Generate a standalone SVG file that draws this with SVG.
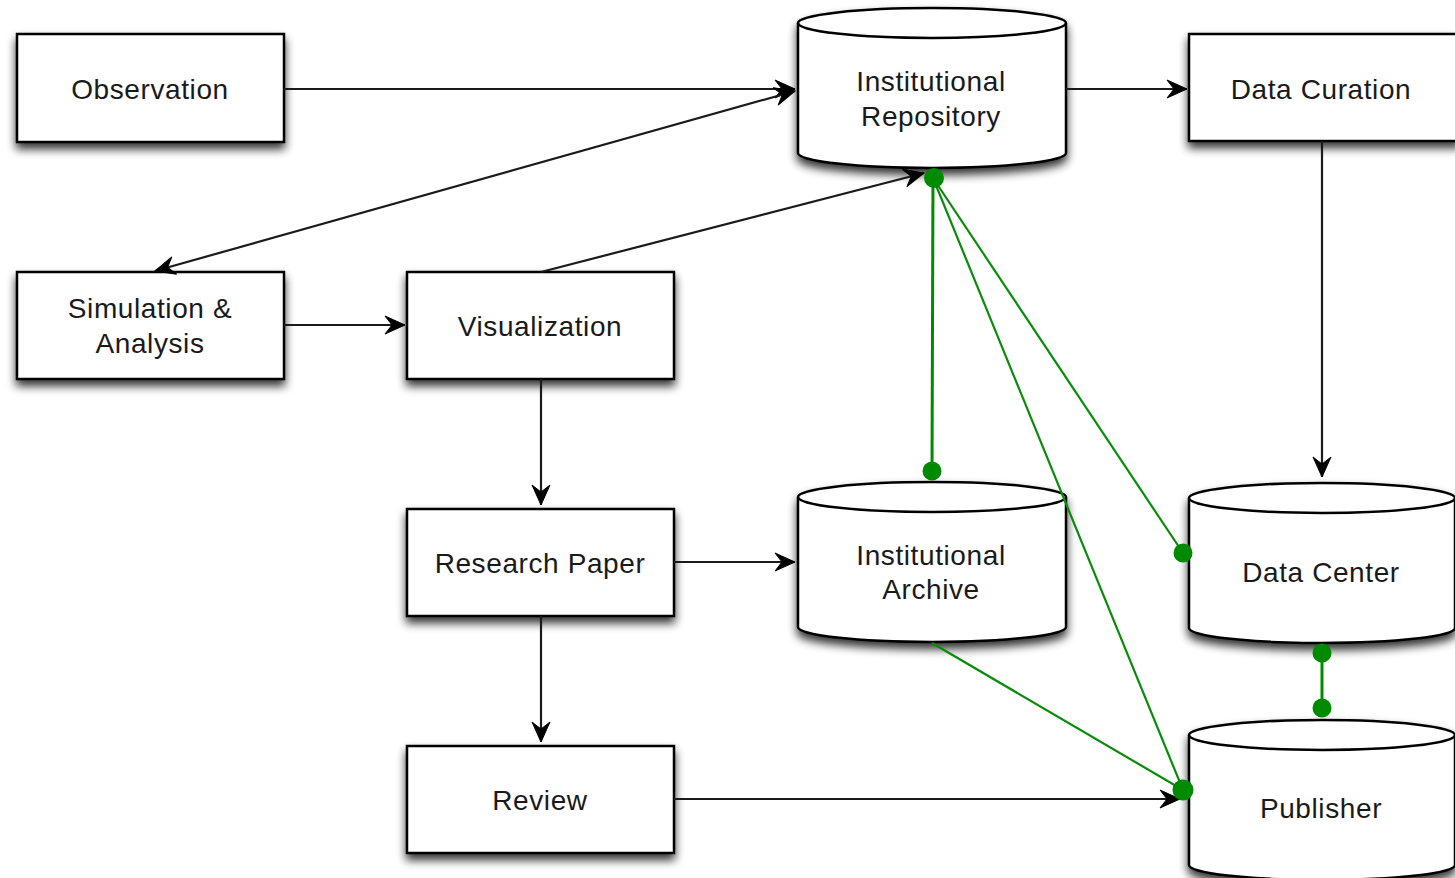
<svg xmlns="http://www.w3.org/2000/svg" width="1455" height="878" viewBox="0 0 1455 878">
<style>
.box{fill:#fff;stroke:#000;stroke-width:2.5;filter:url(#sh)}
.cyl{fill:#fff;stroke:#000;stroke-width:2.5}
.lbl{font-family:"Liberation Sans",Arial,Helvetica,sans-serif;font-size:28px;fill:#1a1a1a;text-anchor:middle;letter-spacing:0.6px}
.ln{fill:none;stroke:#1a1a1a;stroke-width:2.2}
.g{fill:none;stroke:#0a8c0a;stroke-width:2.2}
.gv{fill:none;stroke:#008a00;stroke-width:3}
.dot{fill:#008a00}
</style>
<defs>
<filter id="sh" x="-10%" y="-15%" width="120%" height="145%">
<feGaussianBlur in="SourceAlpha" stdDeviation="5"/>
<feOffset dx="0" dy="6" result="b"/>
<feComponentTransfer><feFuncA type="linear" slope="0.8"/></feComponentTransfer>
<feMerge><feMergeNode/><feMergeNode in="SourceGraphic"/></feMerge>
</filter>
<marker id="ar" markerUnits="userSpaceOnUse" viewBox="0 0 22 20" refX="21" refY="10" markerWidth="22" markerHeight="20" orient="auto-start-reverse">
<path d="M1,1 L21,10 L1,19 L8,10 Z" fill="#000" stroke="#000" stroke-width="1" stroke-linejoin="miter"/>
</marker>
</defs>

<g id="observation"><rect class="box" x="17" y="34" width="267" height="108"/><text class="lbl" x="150" y="99">Observation</text></g>
<g id="simulation"><rect class="box" x="17" y="272" width="267" height="107"/><text class="lbl" x="150" y="318">Simulation &amp;</text><text class="lbl" x="150" y="353">Analysis</text></g>
<g id="visualization"><rect class="box" x="407" y="272" width="267" height="107"/><text class="lbl" x="540" y="336">Visualization</text></g>
<g id="research-paper"><rect class="box" x="407" y="509" width="267" height="107"/><text class="lbl" x="540" y="573">Research Paper</text></g>
<g id="review"><rect class="box" x="407" y="746" width="267" height="107"/><text class="lbl" x="540" y="810">Review</text></g>
<g id="data-curation"><rect class="box" x="1189" y="34" width="270" height="107"/><text class="lbl" x="1321" y="99">Data Curation</text></g>

<g id="institutional-repository"><g filter="url(#sh)"><path class="cyl" d="M798,23 L798,153 A134,15 0 0 0 1066,153 L1066,23 A134,15 0 0 0 798,23 Z"/></g><path class="cyl" d="M798,23 A134,15 0 0 0 1066,23" style="fill:none"/><text class="lbl" x="931" y="91">Institutional</text><text class="lbl" x="931" y="126">Repository</text></g>
<g id="institutional-archive"><g filter="url(#sh)"><path class="cyl" d="M798,497 L798,627 A134,15 0 0 0 1066,627 L1066,497 A134,15 0 0 0 798,497 Z"/></g><path class="cyl" d="M798,497 A134,15 0 0 0 1066,497" style="fill:none"/><text class="lbl" x="931" y="565">Institutional</text><text class="lbl" x="931" y="599">Archive</text></g>
<g id="data-center"><g filter="url(#sh)"><path class="cyl" d="M1189,498 L1189,628 A133,15 0 0 0 1455,628 L1455,498 A133,15 0 0 0 1189,498 Z"/></g><path class="cyl" d="M1189,498 A133,15 0 0 0 1455,498" style="fill:none"/><text class="lbl" x="1321" y="582">Data Center</text></g>
<g id="publisher"><g filter="url(#sh)"><path class="cyl" d="M1189,735 L1189,865 A133,15 0 0 0 1455,865 L1455,735 A133,15 0 0 0 1189,735 Z"/></g><path class="cyl" d="M1189,735 A133,15 0 0 0 1455,735" style="fill:none"/><text class="lbl" x="1321" y="818">Publisher</text></g>

<g id="connectors">
<line class="ln" x1="284" y1="89" x2="795" y2="89" marker-end="url(#ar)"/>
<line class="ln" x1="155" y1="271" x2="795" y2="91" marker-start="url(#ar)" marker-end="url(#ar)"/>
<line class="ln" x1="541" y1="272" x2="924" y2="173" marker-end="url(#ar)"/>
<line class="ln" x1="1066" y1="89" x2="1187" y2="89" marker-end="url(#ar)"/>
<line class="ln" x1="1322" y1="141" x2="1322" y2="477" marker-end="url(#ar)"/>
<line class="ln" x1="284" y1="325" x2="405" y2="325" marker-end="url(#ar)"/>
<line class="ln" x1="541" y1="379" x2="541" y2="505" marker-end="url(#ar)"/>
<line class="ln" x1="674" y1="562" x2="795" y2="562" marker-end="url(#ar)"/>
<line class="ln" x1="541" y1="616" x2="541" y2="742" marker-end="url(#ar)"/>
<line class="ln" x1="674" y1="799" x2="1180" y2="799" marker-end="url(#ar)"/>

<line class="gv" x1="933" y1="178" x2="932" y2="471"/>
<line class="g" x1="933" y1="178" x2="1183" y2="553"/>
<line class="g" x1="933" y1="178" x2="1183" y2="790"/>
<line class="g" x1="932" y1="643" x2="1183" y2="790"/>
<line class="gv" x1="1322" y1="653" x2="1322" y2="708"/>
<circle class="dot" cx="934" cy="178" r="10"/>
<circle class="dot" cx="932" cy="471" r="9.5"/>
<circle class="dot" cx="1183" cy="553" r="9.5"/>
<circle class="dot" cx="1183" cy="790" r="10.5"/>
<circle class="dot" cx="1322" cy="653" r="9.5"/>
<circle class="dot" cx="1322" cy="708" r="9.5"/>
</g>
</svg>
